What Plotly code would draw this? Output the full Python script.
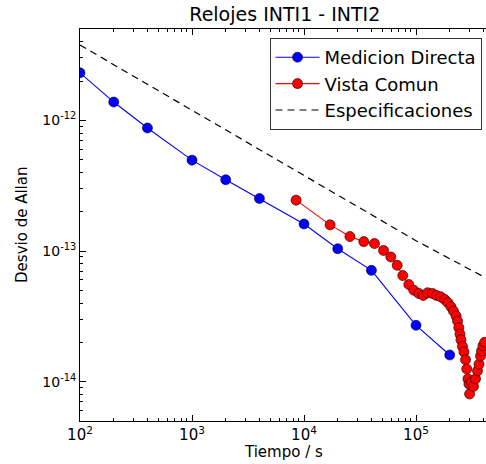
import plotly.graph_objects as go

# Medicion Directa
tau_directa = [100, 200, 400, 1000, 2000, 4000, 10000, 20000, 40000, 100000, 200000]
adev_directa = [2.31e-12, 1.38e-12, 8.74e-13, 4.96e-13, 3.51e-13, 2.52e-13, 1.61e-13,
                1.04e-13, 7.11e-14, 2.70e-14, 1.60e-14]

# Vista Comun
tau_comun = [8500, 17100, 25700, 34200, 42600, 51300, 59600, 67900, 76200, 86300,
             95500, 106000, 116000, 127000, 140000, 152000, 166000, 180000, 193000,
             205000, 216000, 228000, 235000, 241000, 247000, 252000, 260000, 268000,
             277000, 284000, 291000, 297000, 301000, 313000, 326000, 340000, 354000,
             365000, 377000, 385000, 396000, 410000]
adev_comun = [2.45e-13, 1.585e-13, 1.29e-13, 1.18e-13, 1.14e-13, 1.01e-13, 9.0e-14,
              7.77e-14, 6.49e-14, 5.54e-14, 5.01e-14, 4.73e-14, 4.57e-14, 4.79e-14,
              4.73e-14, 4.57e-14, 4.46e-14, 4.26e-14, 4.02e-14, 3.74e-14, 3.47e-14,
              3.18e-14, 2.91e-14, 2.59e-14, 2.31e-14, 2.09e-14, 1.86e-14, 1.69e-14,
              1.47e-14, 1.25e-14, 1.05e-14, 9.6e-15, 8.05e-15, 9.9e-15, 9.2e-15,
              1.05e-14, 1.21e-14, 1.36e-14, 1.57e-14, 1.72e-14, 1.88e-14, 2.0e-14]

# Especificaciones
tau_spec = [100, 1000, 10000, 100000, 500000]
adev_spec = [3.77e-12, 1.19e-12, 3.77e-13, 1.2e-13, 5.74e-14]

x_tickvals = [1e2, 1e3, 1e4, 1e5]
x_ticktext = ["10<sup>2</sup>", "10<sup>3</sup>", "10<sup>4</sup>", "10<sup>5</sup>"]
y_tickvals = [1e-14, 1e-13, 1e-12]
y_ticktext = ["10<sup>-14</sup>", "10<sup>-13</sup>", "10<sup>-12</sup>"]

x_minor = [m * 10 ** e for e in range(2, 6) for m in range(2, 10)]
y_minor = [m * 10.0 ** e for e in range(-15, -11) for m in range(2, 10)]

FONT = "DejaVu Sans"

fig = go.Figure()
fig.add_trace(go.Scatter(
    x=tau_directa, y=adev_directa, name="Medicion Directa", mode="lines+markers",
    legendgroup="a",
    line=dict(color="#0000ff", width=1.1),
    marker=dict(color="#0000ff", size=10, line=dict(color="#000033", width=0.6)),
))
fig.add_trace(go.Scatter(
    x=tau_comun, y=adev_comun, name="Vista Comun", mode="lines+markers",
    legendgroup="b",
    line=dict(color="#ff0000", width=1.1),
    marker=dict(color="#ff0000", size=10, line=dict(color="#330000", width=0.7)),
))
fig.add_trace(go.Scatter(
    x=tau_spec, y=adev_spec, name="Especificaciones", mode="lines",
    legendgroup="c",
    line=dict(color="#000000", width=1.2, dash="7px,5px"),
))

fig.update_layout(
    width=486, height=464,
    margin=dict(l=80, r=0, t=29, b=43, autoexpand=False),
    paper_bgcolor="white", plot_bgcolor="white",
    font=dict(family=FONT, color="#000000", size=14),
    title=dict(text="Relojes INTI1 - INTI2", x=0.586,
               xanchor="center", y=1 - 14 / 464, yanchor="middle",
               font=dict(size=19, family=FONT)),
    showlegend=True,
    legend=dict(
        x=0.989, y=0.977, xanchor="right", yanchor="top",
        bgcolor="white", bordercolor="#333333", borderwidth=1,
        font=dict(size=18, family=FONT),
        tracegroupgap=0, itemwidth=44,
    ),
    annotations=[
        dict(text="Tiempo / s", xref="paper", yref="paper", x=0.5, y=-0.078,
             xanchor="center", yanchor="middle", showarrow=False,
             font=dict(size=15, family=FONT)),
        dict(text="Desvio de Allan", xref="paper", yref="paper", x=-0.143, y=0.5,
             xanchor="center", yanchor="middle", showarrow=False, textangle=-90,
             font=dict(size=15, family=FONT)),
    ],
)

fig.update_xaxes(
    type="log", range=[2, 5.625], automargin=False,
    tickvals=x_tickvals, ticktext=x_ticktext,
    ticks="inside", ticklen=6, tickwidth=1, tickcolor="#000000",
    showline=True, linecolor="#000000", linewidth=1, mirror="ticks",
    showgrid=False, zeroline=False,
    tickfont=dict(size=15, family=FONT),
    minor=dict(ticks="inside", ticklen=3, tickcolor="#000000", showgrid=False,
               tickvals=x_minor),
)
fig.update_yaxes(
    type="log", range=[-14.301, -11.301], automargin=False,
    tickvals=y_tickvals, ticktext=y_ticktext,
    ticks="inside", ticklen=6, tickwidth=1, tickcolor="#000000",
    showline=True, linecolor="#000000", linewidth=1, mirror=False,
    showgrid=False, zeroline=False,
    tickfont=dict(size=14, family=FONT),
    minor=dict(ticks="inside", ticklen=3, tickcolor="#000000", showgrid=False,
               tickvals=y_minor),
)

fig.write_html("out.html", config={"displayModeBar": False},
               post_script="document.body.style.margin='0px';document.body.style.overflow='hidden';")
